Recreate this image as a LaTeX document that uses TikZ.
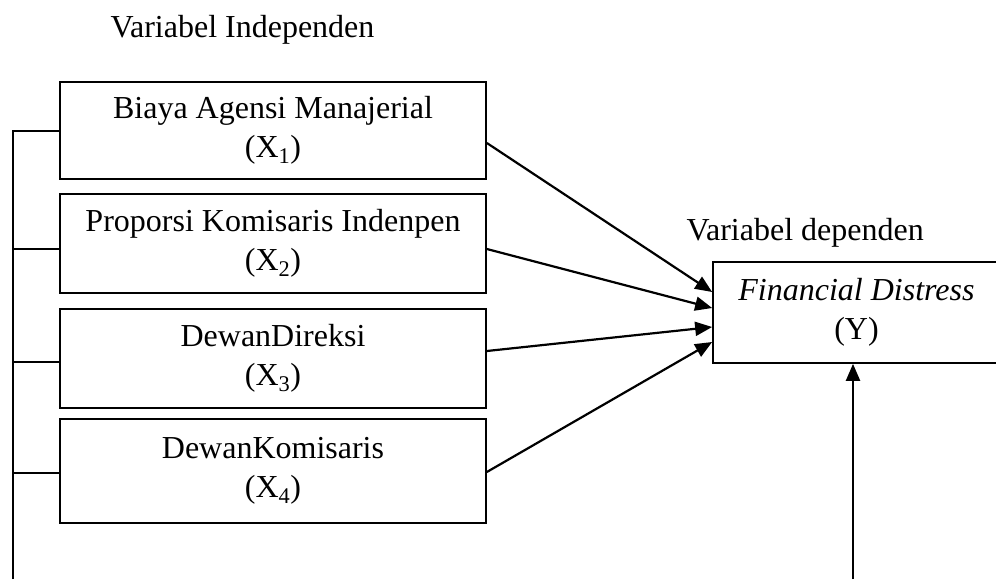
\documentclass[tikz,border=0pt]{standalone}
\usepackage{fontspec}
\setmainfont{Liberation Serif}
\usetikzlibrary{arrows.meta}
\begin{document}
\begin{tikzpicture}[x=1pt,y=-1pt,
  every node/.style={font=\fontsize{32}{39}\selectfont},
  varbox/.style={draw,line width=1.7pt,minimum width=426pt,align=center,inner sep=0pt},
  conn/.style={line width=2pt},
  arr/.style={line width=2.2pt,-{Triangle[length=17pt,width=14pt]}}]
\useasboundingbox (0,0) rectangle (996,579);
\clip (0,0) rectangle (996,579);
\node[anchor=base west] (ti) at (107,37) {Variabel Independen};
\node[anchor=base west] (td) at (683,240) {Variabel dependen};
\node[varbox,minimum height=97pt] (b1) at (273,130.5) {Biaya Agensi Manajerial\\(X\textsubscript{1})};
\node[varbox,minimum height=99pt] (b2) at (273,243.5) {Proporsi Komisaris Indenpen\\(X\textsubscript{2})};
\node[varbox,minimum height=99pt] (b3) at (273,358.5) {DewanDireksi\\(X\textsubscript{3})};
\node[varbox,minimum height=104pt] (b4) at (273,471) {DewanKomisaris\\(X\textsubscript{4})};
\node[varbox,minimum width=287pt,minimum height=101pt] (yb) at (856.5,312.5) {\textit{Financial Distress}\\(Y)};
\coordinate (ltop) at (13,131);
\coordinate (lbot) at (13,579);
\coordinate (vb) at (853,579);
\draw[conn] (lbot) -- (ltop) -- (b1.west |- ltop);
\draw[conn] (13,249) -- (b2.west |- 0,249);
\draw[conn] (13,362) -- (b3.west |- 0,362);
\draw[conn] (13,473) -- (b4.west |- 0,473);
\draw[arr] (b1.east |- 0,143) -- (yb.west |- 0,292);
\draw[arr] (b2.east |- 0,249) -- (yb.west |- 0,308);
\draw[arr] (b3.east |- 0,351) -- (yb.west |- 0,327);
\draw[arr] (b4.east |- 0,472) -- (yb.west |- 0,342);
\draw[arr] (vb) -- (vb |- yb.south);
\end{tikzpicture}
\end{document}
